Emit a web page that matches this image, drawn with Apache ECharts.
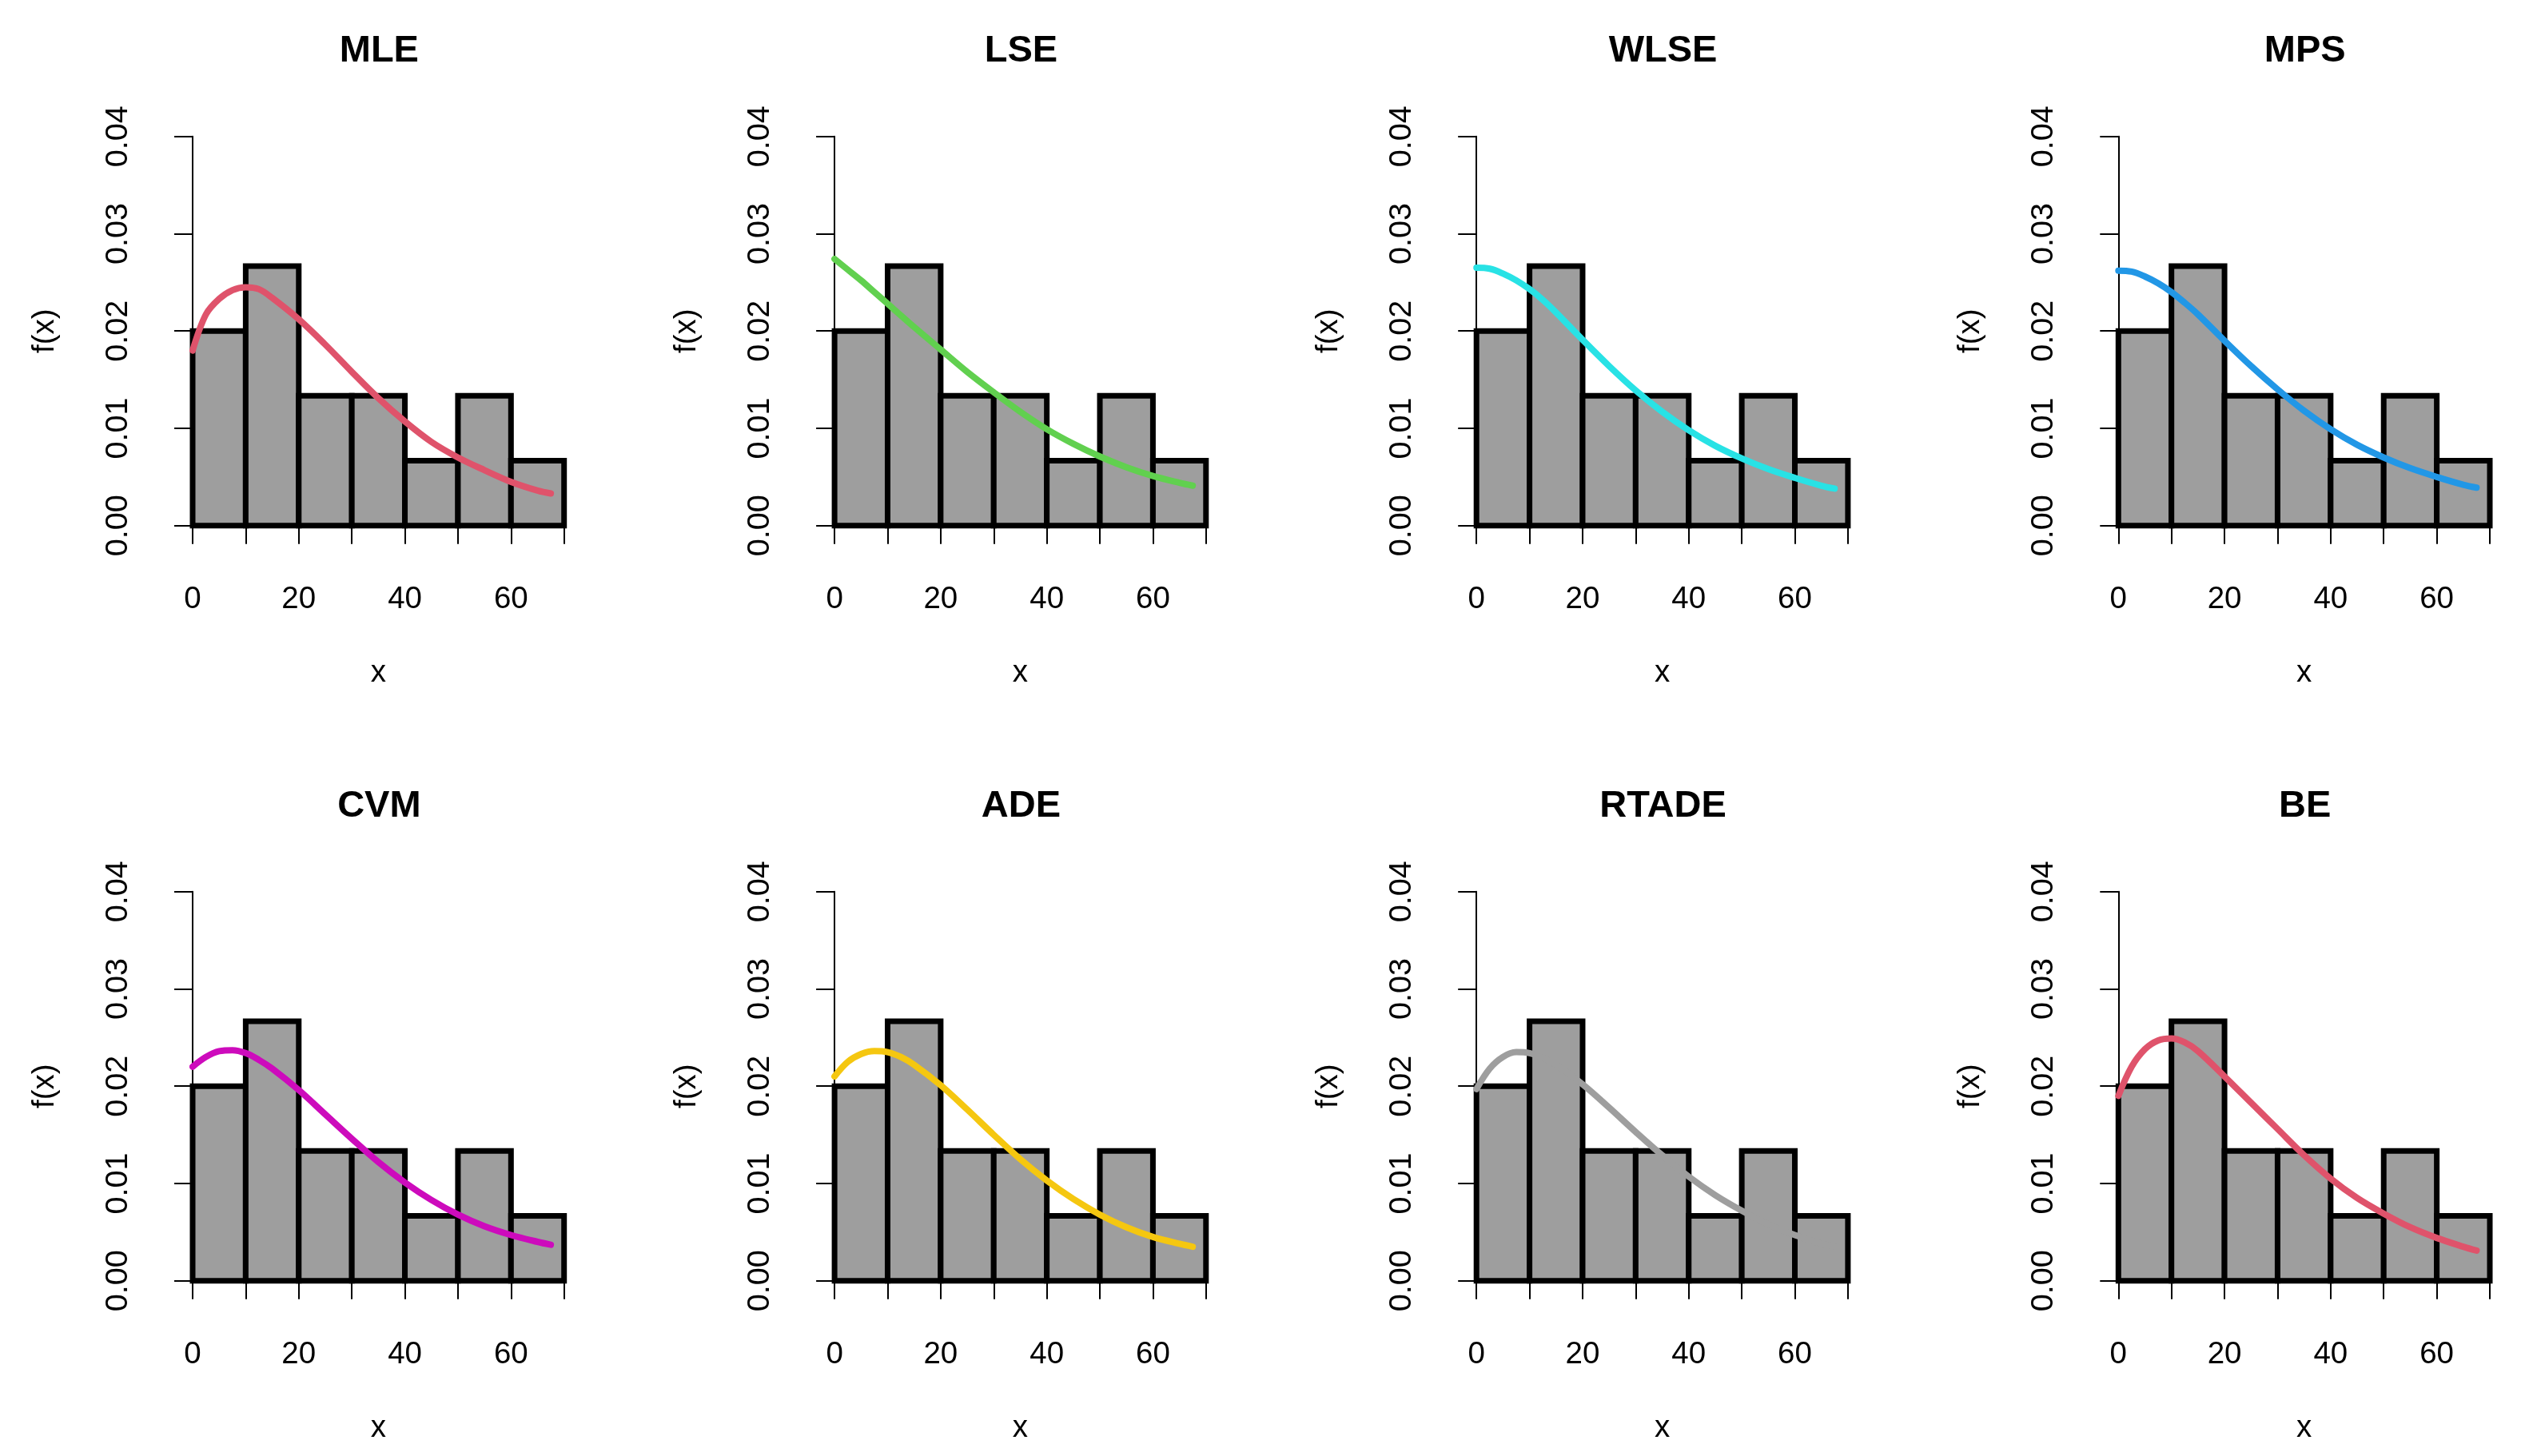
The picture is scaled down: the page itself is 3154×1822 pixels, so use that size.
<!DOCTYPE html>
<html>
<head>
<meta charset="utf-8">
<script src="https://cdn.jsdelivr.net/npm/echarts@6/dist/echarts.min.js"></script>
<style>
html,body{margin:0;padding:0;background:#fff;}
#chart{width:3154px;height:1822px;}
</style>
</head>
<body>
<div id="chart"></div>
<script>
// ---- data ----
const panelNames = ['MLE', 'LSE', 'WLSE', 'MPS', 'CVM', 'ADE', 'RTADE', 'BE'];
const curveColors = ['#DF536B', '#61D04F', '#28E2E5', '#2297E6', '#CD0BBC', '#F5C710', '#9E9E9E', '#DF536B'];
const binStarts = [0, 10, 20, 30, 40, 50, 60];
const binEnds = [10, 20, 30, 40, 50, 60, 70];
const density = [0.02, 0.026667, 0.013333, 0.013333, 0.006667, 0.013333, 0.006667];
const curveX = [0, 2.5, 5, 7.5, 10, 12.5, 15, 20, 25, 30, 35, 40, 45, 50, 55, 60, 65, 67.5];
const mleY   = [0.0180, 0.0217, 0.0233, 0.0242, 0.0245, 0.0243, 0.0234, 0.0212, 0.0186, 0.0158, 0.0131, 0.0107, 0.0086, 0.0070, 0.0057, 0.0045, 0.0036, 0.0033];
const lseY   = [0.0274, 0.0263, 0.0252, 0.0240, 0.0228, 0.0216, 0.0204, 0.0181, 0.0158, 0.0137, 0.0117, 0.0099, 0.0084, 0.0071, 0.0060, 0.0051, 0.0044, 0.0041];
const wlseY  = [0.0265, 0.0264, 0.0259, 0.0252, 0.0243, 0.0232, 0.0219, 0.0191, 0.0164, 0.0139, 0.0117, 0.0098, 0.0082, 0.0069, 0.0058, 0.0049, 0.0041, 0.0038];
const mpsY   = [0.0262, 0.0261, 0.0256, 0.0249, 0.0240, 0.0229, 0.0217, 0.0190, 0.0164, 0.0140, 0.0118, 0.0099, 0.0083, 0.0070, 0.0059, 0.0050, 0.0042, 0.0039];
const cvmY   = [0.0220, 0.0230, 0.0236, 0.0237, 0.0234, 0.0227, 0.0218, 0.0196, 0.0171, 0.0146, 0.0122, 0.0101, 0.0083, 0.0068, 0.0056, 0.0047, 0.0040, 0.0037];
const adeY   = [0.0210, 0.0225, 0.0233, 0.0236, 0.0235, 0.0230, 0.0222, 0.0201, 0.0176, 0.0150, 0.0125, 0.0103, 0.0084, 0.0068, 0.0055, 0.0045, 0.0038, 0.0035];
const rtadeY = [0.0197, 0.0218, 0.0230, 0.0235, 0.0234, 0.0229, 0.0222, 0.0202, 0.0178, 0.0153, 0.0129, 0.0107, 0.0088, 0.0072, 0.0058, 0.0047, 0.0038, 0.0035];
const beY    = [0.0190, 0.0220, 0.0238, 0.0247, 0.0249, 0.0245, 0.0236, 0.0210, 0.0183, 0.0156, 0.0129, 0.0105, 0.0085, 0.0069, 0.0055, 0.0044, 0.0035, 0.0031];
const curveYs = [mleY, lseY, wlseY, mpsY, cvmY, adeY, rtadeY, beY];
const xTicks = [0, 10, 20, 30, 40, 50, 60, 70];
const yTicks = [0, 0.01, 0.02, 0.03, 0.04];

// ---- layout ----
const FONT = '"Liberation Sans", Arial, sans-serif';
const X0 = 241, PLOT_W = 464.7, COL_STEP = 803.1;
const Y_TOP = 170.7, PLOT_H = 487, ROW_STEP = 945;

const chart = echarts.init(document.getElementById('chart'));
const grids = [], xAxes = [], yAxes = [], series = [], titles = [];
const histData = binStarts.map((s, i) => [s, binEnds[i], density[i]]);

panelNames.forEach((name, k) => {
  const c = k % 4, r = Math.floor(k / 4);
  const left = X0 + c * COL_STEP, top = Y_TOP + r * ROW_STEP;
  grids.push({left: left, top: top, width: PLOT_W, height: PLOT_H, containLabel: false});
  titles.push({
    text: name, left: left + PLOT_W / 2 - 4, top: 36 + r * ROW_STEP, textAlign: 'center',
    textStyle: {fontFamily: FONT, fontWeight: 'bold', fontSize: 47, color: '#000'}
  });
  xAxes.push({
    type: 'value', gridIndex: k, min: xTicks[0], max: xTicks[xTicks.length - 1], interval: 10,
    position: 'bottom', offset: 19.6,
    name: 'x', nameLocation: 'middle', nameGap: 146,
    nameTextStyle: {fontFamily: FONT, fontSize: 38.5, color: '#000'},
    axisLine: {show: true, lineStyle: {color: '#000', width: 2}},
    axisTick: {show: true, length: 23, lineStyle: {color: '#000', width: 2}},
    axisLabel: {show: true, margin: 54, fontFamily: FONT, fontSize: 38.5, color: '#000',
      formatter: v => (v % 20 === 0 ? String(v) : '')},
    splitLine: {show: false}
  });
  yAxes.push({
    type: 'value', gridIndex: k, min: yTicks[0], max: yTicks[yTicks.length - 1], interval: 0.01,
    position: 'left', offset: 21,
    name: 'f(x)', nameLocation: 'middle', nameGap: 144, nameRotate: 90,
    nameTextStyle: {fontFamily: FONT, fontSize: 38.5, color: '#000'},
    axisLine: {show: true, lineStyle: {color: '#000', width: 2}},
    axisTick: {show: true, length: 23, lineStyle: {color: '#000', width: 2}},
    axisLabel: {show: true, rotate: 90, margin: 52, fontFamily: FONT, fontSize: 39.5, color: '#000',
      formatter: v => v.toFixed(2)},
    splitLine: {show: false}
  });
  series.push({
    type: 'custom', xAxisIndex: k, yAxisIndex: k, z: 2, clip: false,
    data: histData,
    renderItem: function (params, api) {
      const p0 = api.coord([api.value(0), 0]);
      const p1 = api.coord([api.value(1), api.value(2)]);
      return {
        type: 'rect',
        shape: {x: p0[0], y: p1[1], width: p1[0] - p0[0], height: p0[1] - p1[1]},
        style: {fill: '#9E9E9E', stroke: '#000', lineWidth: 7, lineJoin: 'miter'}
      };
    }
  });
  series.push({
    type: 'line', xAxisIndex: k, yAxisIndex: k, z: 5, clip: false,
    smooth: 0.35, showSymbol: false, symbol: 'none', silent: true,
    data: curveX.map((x, i) => [x, curveYs[k][i]]),
    lineStyle: {color: curveColors[k], width: 8, cap: 'round', join: 'round'}
  });
});

chart.setOption({
  animation: false,
  backgroundColor: '#fff',
  title: titles,
  grid: grids,
  xAxis: xAxes,
  yAxis: yAxes,
  series: series
});
</script>
</body>
</html>
